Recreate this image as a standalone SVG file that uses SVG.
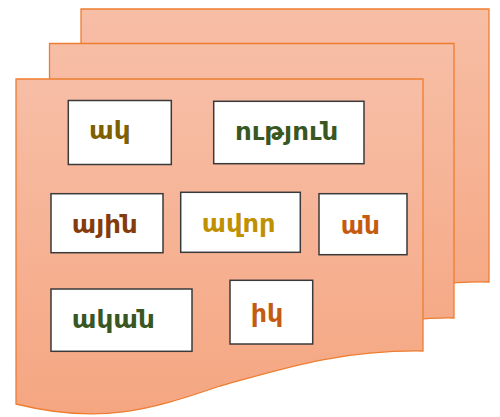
<svg xmlns="http://www.w3.org/2000/svg" width="500" height="417" viewBox="0 0 500 417">
<defs>
<linearGradient id="pg" x1="0" y1="0" x2="0" y2="1">
<stop offset="0" stop-color="#F7BEA6"/>
<stop offset="1" stop-color="#F5A681"/>
</linearGradient>
<style>
.page{fill:url(#pg);stroke:#ED7D31;stroke-width:1.3}
.box{fill:#FFFFFF;stroke:#3A3A3A;stroke-width:1.5}
.lbl{font-family:"DejaVu Sans","Noto Sans",sans-serif;font-weight:bold;font-size:25px}
</style>
</defs>
<g id="pages">
<path class="page" d="M81,9 H489 V282 C 440,281 400,290 340,300 L 81,330 Z"/>
<path class="page" d="M49.5,43.5 H454 V318 C 400,317 340,330 280,345 L 49.5,370 Z"/>
<path class="page" d="M16,79 H423 V351 C 340,350 285,368 220,386 C 150,410 100,425 16,404 Z"/>
</g>
<g id="n1"><rect class="box" x="68.3" y="100.5" width="103" height="64"/><text class="lbl" x="89" y="138.5" fill="#7F6000" textLength="41.7" lengthAdjust="spacingAndGlyphs">ակ</text></g>
<g id="n2"><rect class="box" x="213.7" y="101.3" width="150.3" height="62.4"/><text class="lbl" x="235" y="140" fill="#385723" textLength="103.3" lengthAdjust="spacingAndGlyphs">ություն</text></g>
<g id="n3"><rect class="box" x="51" y="193.7" width="112" height="59"/><text class="lbl" x="71.7" y="232.7" fill="#843C0C" textLength="66" lengthAdjust="spacingAndGlyphs">ային</text></g>
<g id="n4"><rect class="box" x="180.7" y="192.3" width="119.6" height="60"/><text class="lbl" x="201.7" y="231.7" fill="#BF9000" textLength="74" lengthAdjust="spacingAndGlyphs">ավոր</text></g>
<g id="n5"><rect class="box" x="319" y="193.7" width="88" height="61"/><text class="lbl" x="340.7" y="234" fill="#C55A11" textLength="39.3" lengthAdjust="spacingAndGlyphs">ան</text></g>
<g id="n6"><rect class="box" x="51" y="289" width="141" height="62.3"/><text class="lbl" x="71.7" y="328.3" fill="#385723" textLength="83.3" lengthAdjust="spacingAndGlyphs">ական</text></g>
<g id="n7"><rect class="box" x="230" y="280.3" width="82.7" height="63.7"/><text class="lbl" x="250.7" y="322" fill="#C55A11" textLength="32.6" lengthAdjust="spacingAndGlyphs">իկ</text></g>
</svg>
